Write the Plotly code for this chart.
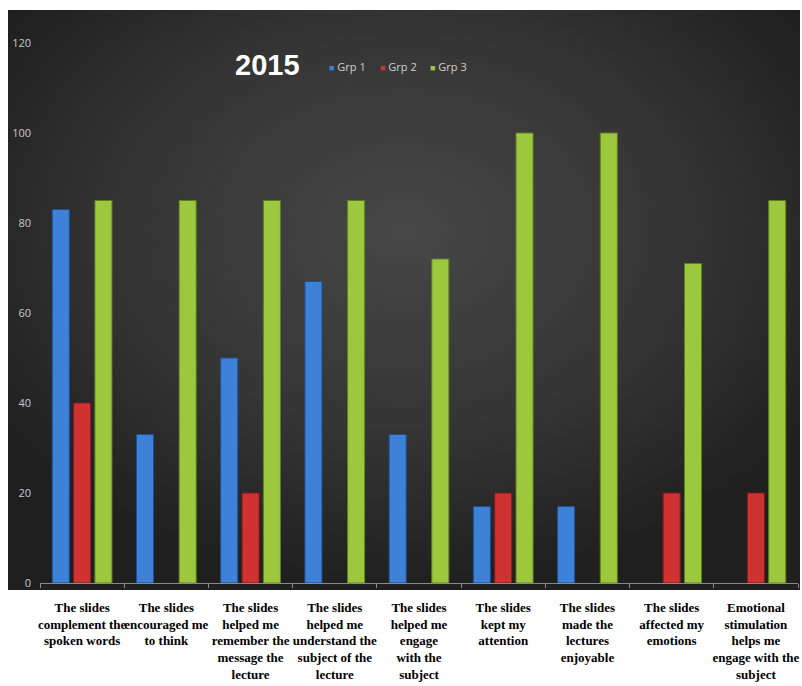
import base64
import plotly.graph_objects as go

categories = [
    "The slides<br>complement the<br>spoken words",
    "The slides<br>encouraged me<br>to think",
    "The slides<br>helped me<br>remember the<br>message the<br>lecture",
    "The slides<br>helped me<br>understand the<br>subject of the<br>lecture",
    "The slides<br>helped me<br>engage<br>with the<br>subject",
    "The slides<br>kept my<br>attention",
    "The slides<br>made the<br>lectures<br>enjoyable",
    "The slides<br>affected my<br>emotions",
    "Emotional<br>stimulation<br>helps me<br>engage with the<br>subject",
]
grp1 = [83, 33, 50, 67, 33, 17, 17, 0, 0]
grp2 = [40, 0, 20, 0, 0, 20, 0, 20, 20]
grp3 = [85, 85, 85, 85, 72, 100, 100, 71, 85]
series_names = ["Grp 1", "Grp 2", "Grp 3"]
y_ticks = [0, 20, 40, 60, 80, 100, 120]
title_text = "2015"

colors = ["#3d82d8", "#d03232", "#9cc83e"]
edges = ["#1f4f8f", "#7f1c1c", "#5f7f22"]

W, H = 802, 686
L, R, T, B = 40, 4, 43, 103
pw, ph = W - L - R, H - T - B


def px_x(p):
    return (p - L) / pw


def px_y(p):
    return (H - B - p) / ph


# background panel (radial gradient)
panel_x0, panel_x1, panel_y0, panel_y1 = 8, 800, 10, 590
svg = (
    '<svg xmlns="http://www.w3.org/2000/svg" width="792" height="580" viewBox="0 0 792 580" preserveAspectRatio="none">'
    '<defs><radialGradient id="g" cx="0.5" cy="0.38" r="0.62">'
    '<stop offset="0" stop-color="#474747"/><stop offset="0.55" stop-color="#353535"/>'
    '<stop offset="1" stop-color="#1f1f1f"/></radialGradient></defs>'
    '<rect width="792" height="580" fill="url(#g)"/></svg>'
)
src = "data:image/svg+xml;base64," + base64.b64encode(svg.encode()).decode()

fig = go.Figure()
for name, vals, c, e in zip(series_names, [grp1, grp2, grp3], colors, edges):
    fig.add_trace(go.Bar(
        x=categories, y=[v if v else None for v in vals], name=name,
        marker=dict(color=c, line=dict(color=e, width=1)),
        showlegend=False,
    ))

annotations = [dict(
    text=f"<b>{title_text}</b>", xref="paper", yref="paper",
    x=px_x(267), y=px_y(65), xanchor="center", yanchor="middle",
    showarrow=False, font=dict(family="Liberation Sans", size=29, color="white"),
)]
legend_x = [327, 378, 428]
for name, c, lx in zip(series_names, colors, legend_x):
    annotations.append(dict(
        text=f'<span style="color:{c};font-size:9px">■</span> {name}',
        xref="paper", yref="paper", x=px_x(lx), y=px_y(67),
        xanchor="left", yanchor="middle", showarrow=False,
        font=dict(family="Open Sans", size=11, color="#d0d0d0"),
    ))

fig.update_layout(
    width=W, height=H,
    margin=dict(l=L, r=R, t=T, b=B, pad=0, autoexpand=False),
    paper_bgcolor="white",
    plot_bgcolor="rgba(0,0,0,0)",
    barmode="group",
    bargap=0.24,
    bargroupgap=0.2,
    images=[dict(
        source=src, xref="paper", yref="paper",
        x=px_x(panel_x0), y=px_y(panel_y0),
        sizex=(panel_x1 - panel_x0) / pw, sizey=(panel_y1 - panel_y0) / ph,
        xanchor="left", yanchor="top", sizing="stretch", layer="below",
    )],
    xaxis=dict(
        showline=True, linecolor="#8a8a8a", linewidth=1,
        ticks="outside", tickson="boundaries", ticklen=4, tickcolor="#8a8a8a",
        tickfont=dict(family="Liberation Serif", size=13, color="black", weight="bold"),
        tickangle=0, ticklabelstandoff=12, automargin=False,
        showgrid=False, zeroline=False,
    ),
    yaxis=dict(
        range=[0, 120], tickvals=y_ticks, automargin=False,
        showgrid=False, zeroline=False, showline=False, ticks="",
        tickfont=dict(family="Open Sans", size=11, color="#c8c8c8"),
        ticklabelstandoff=8,
    ),
    showlegend=False,
    annotations=annotations,
)

fig.write_html("out.html")
